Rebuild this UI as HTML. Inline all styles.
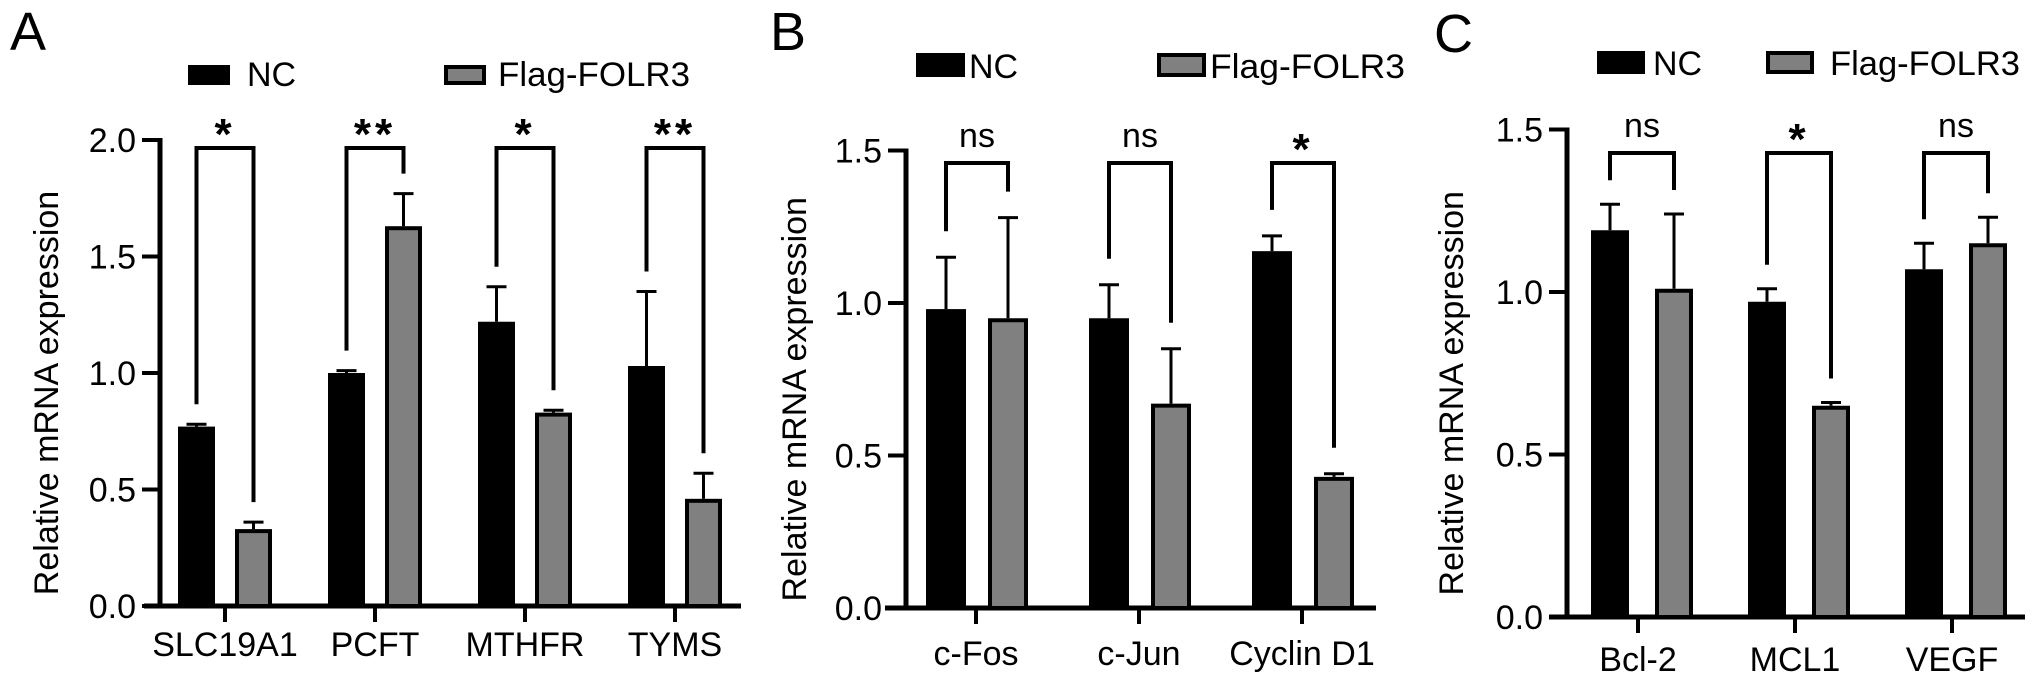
<!DOCTYPE html>
<html><head><meta charset="utf-8"><style>
html,body{margin:0;padding:0;background:#fff;}
svg{display:block;font-family:"Liberation Sans",Arial,sans-serif;}
</style></head><body>
<svg id="fig" width="2032" height="686" viewBox="0 0 2032 686" xmlns="http://www.w3.org/2000/svg">
<rect width="2032" height="686" fill="#fff"/>
</svg>
<script>
// ---- Panel A data ----
const catsA = ["SLC19A1","PCFT","MTHFR","TYMS"];
const ncA = [0.77, 1.00, 1.22, 1.03];
const ncErrA = [0.01, 0.01, 0.15, 0.32];
const grA = [0.33, 1.63, 0.83, 0.46];
const grErrA = [0.03, 0.14, 0.01, 0.11];
const sigA = ["*","**","*","**"];
const ticksA = [0, 0.5, 1.0, 1.5, 2.0];
const tickLabelsA = ["0.0","0.5","1.0","1.5","2.0"];
// ---- Panel B data ----
const catsB = ["c-Fos","c-Jun","Cyclin D1"];
const ncB = [0.98, 0.95, 1.17];
const ncErrB = [0.17, 0.11, 0.05];
const grB = [0.95, 0.67, 0.43];
const grErrB = [0.33, 0.18, 0.01];
const sigB = ["ns","ns","*"];
const ticksB = [0, 0.5, 1.0, 1.5];
const tickLabelsB = ["0.0","0.5","1.0","1.5"];
// ---- Panel C data ----
const catsC = ["Bcl-2","MCL1","VEGF"];
const ncC = [1.19, 0.97, 1.07];
const ncErrC = [0.08, 0.04, 0.08];
const grC = [1.01, 0.65, 1.15];
const grErrC = [0.23, 0.01, 0.08];
const sigC = ["ns","*","ns"];
const ticksC = [0, 0.5, 1.0, 1.5];
const tickLabelsC = ["0.0","0.5","1.0","1.5"];

const NS = "http://www.w3.org/2000/svg";
const svg = document.getElementById("fig");
function mk(tag, attrs, parent, text){
  const e = document.createElementNS(NS, tag);
  for (const k in attrs) e.setAttribute(k, attrs[k]);
  if (text !== undefined) e.textContent = text;
  (parent||svg).appendChild(e);
  return e;
}

function panel(cfg, cats, nc, ncErr, gr, grErr, sig, ticks, tickLabels){
  const g = mk("g", {});
  
  
  const y = v => cfg.y0 - v * cfg.ppu;
  const cx = i => cfg.c0 + i * cfg.step;
  // letter
  const L = mk("text", {x: cfg.letterX, y: cfg.letterY, "font-size": 54, fill: "#000"}, g, cfg.letter);
  
  
  // legend
  const lg = mk("g", {}, g);
  
  
  const b1 = mk("rect", {x: cfg.lg[0], y: cfg.lgY, width: cfg.lgW, height: cfg.lgH, fill: "#000"}, lg);
  
  
  const t1 = mk("text", {x: cfg.lg[1], y: cfg.lgY + cfg.lgH + 1, "font-size": 34}, lg, "NC");
  
  
  const b2 = mk("rect", {x: cfg.lg[2] + 2, y: cfg.lgY + 2, width: cfg.lgW - 4, height: cfg.lgH - 4, fill: "#808080", stroke: "#000", "stroke-width": 4}, lg);
  
  
  const t2 = mk("text", {x: cfg.lg[3], y: cfg.lgY + cfg.lgH + 1, "font-size": 34, textLength: cfg.lgTL, lengthAdjust: "spacingAndGlyphs"}, lg, "Flag-FOLR3");
  
  
  // y-axis
  const ya = mk("line", {x1: cfg.ax, y1: y(ticks[ticks.length-1]) - 2, x2: cfg.ax, y2: cfg.y0 + 2, stroke: "#000", "stroke-width": 5}, g);
  
  
  ticks.forEach((t, i) => {
    const tl = mk("line", {x1: cfg.ax - 18, y1: y(t), x2: cfg.ax, y2: y(t), stroke: "#000", "stroke-width": 4}, g);
    
    
    const tx = mk("text", {x: cfg.ax - 24, y: y(t) + 12, "font-size": 34, "text-anchor": "end"}, g, tickLabels[i]);
    
    
  });
  const yt = mk("text", {x: 0, y: 0, "font-size": 34, "text-anchor": "middle", transform: `translate(${cfg.titleX},${(cfg.y0 + y(ticks[ticks.length-1]))/2 + 20}) rotate(-90)`}, g, "Relative mRNA expression");
  
  
  // x-axis
  const xa = mk("line", {x1: cfg.xs, y1: cfg.y0, x2: cfg.xe, y2: cfg.y0, stroke: "#000", "stroke-width": 5}, g);
  
  
  cats.forEach((c, i) => {
    const c0 = cx(i);
    const tk = mk("line", {x1: c0, y1: cfg.y0, x2: c0, y2: cfg.y0 + 16, stroke: "#000", "stroke-width": 4}, g);
    
    
    const lb = mk("text", {x: c0, y: cfg.labY, "font-size": 34, "text-anchor": "middle"}, g, c);
    
    
    // NC bar
    const nx = c0 + cfg.ncOff;
    const ncTop = y(nc[i]);
    const eN = mk("line", {x1: nx + cfg.bw/2, y1: y(nc[i] + ncErr[i]), x2: nx + cfg.bw/2, y2: ncTop, stroke: "#000", "stroke-width": 3}, g);
    
    
    const cN = mk("line", {x1: nx + cfg.bw/2 - 10, y1: y(nc[i] + ncErr[i]), x2: nx + cfg.bw/2 + 10, y2: y(nc[i] + ncErr[i]), stroke: "#000", "stroke-width": 3}, g);
    
    
    const bN = mk("rect", {x: nx, y: ncTop, width: cfg.bw, height: cfg.y0 - ncTop, fill: "#000"}, g);
    
    
    // Flag bar
    const gx = c0 + cfg.grOff;
    const grTop = y(gr[i]);
    const eG = mk("line", {x1: gx + cfg.bw/2, y1: y(gr[i] + grErr[i]), x2: gx + cfg.bw/2, y2: grTop, stroke: "#000", "stroke-width": 3}, g);
    
    
    const cG = mk("line", {x1: gx + cfg.bw/2 - 10, y1: y(gr[i] + grErr[i]), x2: gx + cfg.bw/2 + 10, y2: y(gr[i] + grErr[i]), stroke: "#000", "stroke-width": 3}, g);
    
    
    const bG = mk("rect", {x: gx + 2, y: grTop + 2, width: cfg.bw - 4, height: cfg.y0 - grTop - 2, fill: "#808080", stroke: "#000", "stroke-width": 4}, g);
    
    
    // bracket
    const lx = nx + cfg.bw/2, rx = gx + cfg.bw/2;
    const lBot = y(nc[i] + ncErr[i]) - cfg.gap, rBot = y(gr[i] + grErr[i]) - cfg.gap;
    const br = mk("path", {d: `M${lx},${lBot} L${lx},${cfg.brY} L${rx},${cfg.brY} L${rx},${rBot}`, fill: "none", stroke: "#000", "stroke-width": 4}, g);
    
    
    const isStar = sig[i] !== "ns";
    const st = mk("text", {x: (lx + rx)/2, y: isStar ? cfg.brY + 1 : cfg.brY - 16, "font-size": isStar ? 44 : 34, "font-weight": isStar ? "bold" : "normal", "text-anchor": "middle", "letter-spacing": isStar ? 4 : 0}, g, sig[i]);
    
    
  });
}

panel({id:"a", letter:"A", letterX:10, letterY:50, lg:[188,247,444,498], lgY:65, lgW:42, lgH:20, lgTL:192,
  ax:160, y0:606, ppu:233, c0:225, step:150, bw:37, ncOff:-47, grOff:10, xs:144, xe:741, brY:148, gap:20, labY:656, titleX:58},
  catsA, ncA, ncErrA, grA, grErrA, sigA, ticksA, tickLabelsA);
panel({id:"b", letter:"B", letterX:770, letterY:50, lg:[916,969,1157,1210], lgY:53, lgW:49, lgH:24, lgTL:195,
  ax:906, y0:608, ppu:305, c0:976, step:163, bw:40, ncOff:-50, grOff:12, xs:885, xe:1376, brY:163, gap:26, labY:665, titleX:806},
  catsB, ncB, ncErrB, grB, grErrB, sigB, ticksB, tickLabelsB);
panel({id:"c", letter:"C", letterX:1434, letterY:52, lg:[1597,1653,1766,1830], lgY:51, lgW:48, lgH:23, lgTL:190,
  ax:1567, y0:617, ppu:325, c0:1638, step:157, bw:38, ncOff:-47, grOff:17, xs:1549, xe:2025, brY:153, gap:24, labY:671, titleX:1463},
  catsC, ncC, ncErrC, grC, grErrC, sigC, ticksC, tickLabelsC);
</script>
</body></html>
